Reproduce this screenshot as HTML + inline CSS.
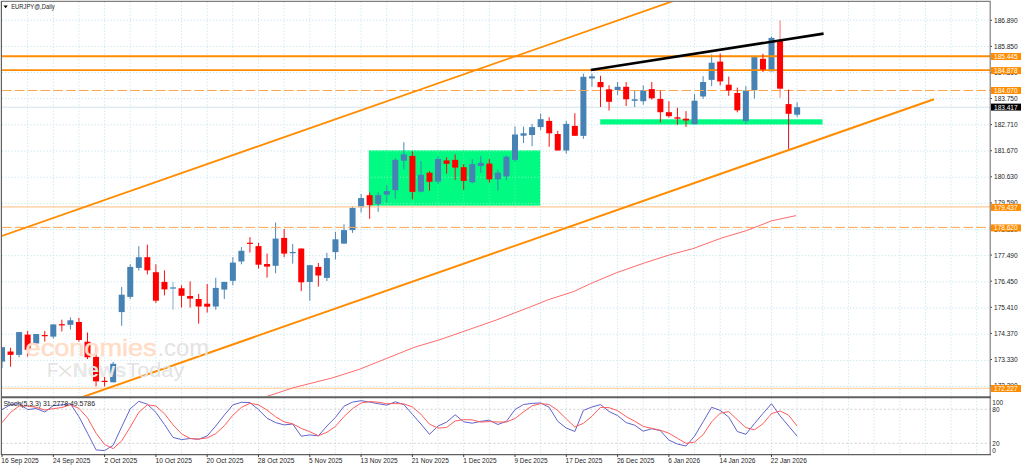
<!DOCTYPE html>
<html><head><meta charset="utf-8"><title>EURJPY Daily</title>
<style>html,body{margin:0;padding:0;background:#fff;overflow:hidden}svg{display:block}text{font-family:"Liberation Sans",sans-serif}</style></head><body>
<svg width="1024" height="467" viewBox="0 0 1024 467">
<rect width="1024" height="467" fill="#fff"/>
<defs><clipPath id="cm"><rect x="2" y="2" width="988" height="394.5"/></clipPath><clipPath id="cs"><rect x="2" y="398" width="988" height="56.5"/></clipPath></defs>
<g clip-path="url(#cm)">
<line x1="2" x2="990" y1="20.2" y2="20.2" stroke="#c0e3eb" stroke-opacity="1" stroke-width="1" stroke-dasharray="1.07 2.13"/>
<line x1="2" x2="990" y1="46.4" y2="46.4" stroke="#c0e3eb" stroke-opacity="1" stroke-width="1" stroke-dasharray="1.07 2.13"/>
<line x1="2" x2="990" y1="72.5" y2="72.5" stroke="#c0e3eb" stroke-opacity="1" stroke-width="1" stroke-dasharray="1.07 2.13"/>
<line x1="2" x2="990" y1="98.7" y2="98.7" stroke="#c0e3eb" stroke-opacity="1" stroke-width="1" stroke-dasharray="1.07 2.13"/>
<line x1="2" x2="990" y1="124.9" y2="124.9" stroke="#c0e3eb" stroke-opacity="1" stroke-width="1" stroke-dasharray="1.07 2.13"/>
<line x1="2" x2="990" y1="151.1" y2="151.1" stroke="#c0e3eb" stroke-opacity="1" stroke-width="1" stroke-dasharray="1.07 2.13"/>
<line x1="2" x2="990" y1="177.2" y2="177.2" stroke="#c0e3eb" stroke-opacity="1" stroke-width="1" stroke-dasharray="1.07 2.13"/>
<line x1="2" x2="990" y1="203.4" y2="203.4" stroke="#c0e3eb" stroke-opacity="1" stroke-width="1" stroke-dasharray="1.07 2.13"/>
<line x1="2" x2="990" y1="229.6" y2="229.6" stroke="#c0e3eb" stroke-opacity="1" stroke-width="1" stroke-dasharray="1.07 2.13"/>
<line x1="2" x2="990" y1="255.7" y2="255.7" stroke="#c0e3eb" stroke-opacity="1" stroke-width="1" stroke-dasharray="1.07 2.13"/>
<line x1="2" x2="990" y1="281.9" y2="281.9" stroke="#c0e3eb" stroke-opacity="1" stroke-width="1" stroke-dasharray="1.07 2.13"/>
<line x1="2" x2="990" y1="308.1" y2="308.1" stroke="#c0e3eb" stroke-opacity="1" stroke-width="1" stroke-dasharray="1.07 2.13"/>
<line x1="2" x2="990" y1="334.2" y2="334.2" stroke="#c0e3eb" stroke-opacity="1" stroke-width="1" stroke-dasharray="1.07 2.13"/>
<line x1="2" x2="990" y1="360.4" y2="360.4" stroke="#c0e3eb" stroke-opacity="1" stroke-width="1" stroke-dasharray="1.07 2.13"/>
<line x1="2" x2="990" y1="386.6" y2="386.6" stroke="#c0e3eb" stroke-opacity="1" stroke-width="1" stroke-dasharray="1.07 2.13"/>
<line x1="27.6" x2="27.6" y1="2" y2="396" stroke="#c0e3eb" stroke-opacity="1" stroke-width="1" stroke-dasharray="1.07 2.13"/>
<line x1="53.3" x2="53.3" y1="2" y2="396" stroke="#c0e3eb" stroke-opacity="1" stroke-width="1" stroke-dasharray="1.07 2.13"/>
<line x1="78.9" x2="78.9" y1="2" y2="396" stroke="#c0e3eb" stroke-opacity="1" stroke-width="1" stroke-dasharray="1.07 2.13"/>
<line x1="104.6" x2="104.6" y1="2" y2="396" stroke="#c0e3eb" stroke-opacity="1" stroke-width="1" stroke-dasharray="1.07 2.13"/>
<line x1="130.2" x2="130.2" y1="2" y2="396" stroke="#c0e3eb" stroke-opacity="1" stroke-width="1" stroke-dasharray="1.07 2.13"/>
<line x1="155.9" x2="155.9" y1="2" y2="396" stroke="#c0e3eb" stroke-opacity="1" stroke-width="1" stroke-dasharray="1.07 2.13"/>
<line x1="181.5" x2="181.5" y1="2" y2="396" stroke="#c0e3eb" stroke-opacity="1" stroke-width="1" stroke-dasharray="1.07 2.13"/>
<line x1="207.2" x2="207.2" y1="2" y2="396" stroke="#c0e3eb" stroke-opacity="1" stroke-width="1" stroke-dasharray="1.07 2.13"/>
<line x1="232.8" x2="232.8" y1="2" y2="396" stroke="#c0e3eb" stroke-opacity="1" stroke-width="1" stroke-dasharray="1.07 2.13"/>
<line x1="258.5" x2="258.5" y1="2" y2="396" stroke="#c0e3eb" stroke-opacity="1" stroke-width="1" stroke-dasharray="1.07 2.13"/>
<line x1="284.1" x2="284.1" y1="2" y2="396" stroke="#c0e3eb" stroke-opacity="1" stroke-width="1" stroke-dasharray="1.07 2.13"/>
<line x1="309.8" x2="309.8" y1="2" y2="396" stroke="#c0e3eb" stroke-opacity="1" stroke-width="1" stroke-dasharray="1.07 2.13"/>
<line x1="335.4" x2="335.4" y1="2" y2="396" stroke="#c0e3eb" stroke-opacity="1" stroke-width="1" stroke-dasharray="1.07 2.13"/>
<line x1="361.1" x2="361.1" y1="2" y2="396" stroke="#c0e3eb" stroke-opacity="1" stroke-width="1" stroke-dasharray="1.07 2.13"/>
<line x1="386.8" x2="386.8" y1="2" y2="396" stroke="#c0e3eb" stroke-opacity="1" stroke-width="1" stroke-dasharray="1.07 2.13"/>
<line x1="412.4" x2="412.4" y1="2" y2="396" stroke="#c0e3eb" stroke-opacity="1" stroke-width="1" stroke-dasharray="1.07 2.13"/>
<line x1="438.0" x2="438.0" y1="2" y2="396" stroke="#c0e3eb" stroke-opacity="1" stroke-width="1" stroke-dasharray="1.07 2.13"/>
<line x1="463.7" x2="463.7" y1="2" y2="396" stroke="#c0e3eb" stroke-opacity="1" stroke-width="1" stroke-dasharray="1.07 2.13"/>
<line x1="489.3" x2="489.3" y1="2" y2="396" stroke="#c0e3eb" stroke-opacity="1" stroke-width="1" stroke-dasharray="1.07 2.13"/>
<line x1="515.0" x2="515.0" y1="2" y2="396" stroke="#c0e3eb" stroke-opacity="1" stroke-width="1" stroke-dasharray="1.07 2.13"/>
<line x1="540.6" x2="540.6" y1="2" y2="396" stroke="#c0e3eb" stroke-opacity="1" stroke-width="1" stroke-dasharray="1.07 2.13"/>
<line x1="566.3" x2="566.3" y1="2" y2="396" stroke="#c0e3eb" stroke-opacity="1" stroke-width="1" stroke-dasharray="1.07 2.13"/>
<line x1="591.9" x2="591.9" y1="2" y2="396" stroke="#c0e3eb" stroke-opacity="1" stroke-width="1" stroke-dasharray="1.07 2.13"/>
<line x1="617.6" x2="617.6" y1="2" y2="396" stroke="#c0e3eb" stroke-opacity="1" stroke-width="1" stroke-dasharray="1.07 2.13"/>
<line x1="643.2" x2="643.2" y1="2" y2="396" stroke="#c0e3eb" stroke-opacity="1" stroke-width="1" stroke-dasharray="1.07 2.13"/>
<line x1="668.9" x2="668.9" y1="2" y2="396" stroke="#c0e3eb" stroke-opacity="1" stroke-width="1" stroke-dasharray="1.07 2.13"/>
<line x1="694.5" x2="694.5" y1="2" y2="396" stroke="#c0e3eb" stroke-opacity="1" stroke-width="1" stroke-dasharray="1.07 2.13"/>
<line x1="720.2" x2="720.2" y1="2" y2="396" stroke="#c0e3eb" stroke-opacity="1" stroke-width="1" stroke-dasharray="1.07 2.13"/>
<line x1="745.8" x2="745.8" y1="2" y2="396" stroke="#c0e3eb" stroke-opacity="1" stroke-width="1" stroke-dasharray="1.07 2.13"/>
<line x1="771.5" x2="771.5" y1="2" y2="396" stroke="#c0e3eb" stroke-opacity="1" stroke-width="1" stroke-dasharray="1.07 2.13"/>
<line x1="797.1" x2="797.1" y1="2" y2="396" stroke="#c0e3eb" stroke-opacity="1" stroke-width="1" stroke-dasharray="1.07 2.13"/>
<line x1="822.8" x2="822.8" y1="2" y2="396" stroke="#c0e3eb" stroke-opacity="1" stroke-width="1" stroke-dasharray="1.07 2.13"/>
<line x1="848.4" x2="848.4" y1="2" y2="396" stroke="#c0e3eb" stroke-opacity="1" stroke-width="1" stroke-dasharray="1.07 2.13"/>
<line x1="874.1" x2="874.1" y1="2" y2="396" stroke="#c0e3eb" stroke-opacity="1" stroke-width="1" stroke-dasharray="1.07 2.13"/>
<line x1="899.8" x2="899.8" y1="2" y2="396" stroke="#c0e3eb" stroke-opacity="1" stroke-width="1" stroke-dasharray="1.07 2.13"/>
<line x1="925.4" x2="925.4" y1="2" y2="396" stroke="#c0e3eb" stroke-opacity="1" stroke-width="1" stroke-dasharray="1.07 2.13"/>
<line x1="951.0" x2="951.0" y1="2" y2="396" stroke="#c0e3eb" stroke-opacity="1" stroke-width="1" stroke-dasharray="1.07 2.13"/>
<line x1="976.7" x2="976.7" y1="2" y2="396" stroke="#c0e3eb" stroke-opacity="1" stroke-width="1" stroke-dasharray="1.07 2.13"/>
<rect x="368.9" y="150.4" width="171.3" height="55.2" fill="#00fa82"/>
<rect x="600.2" y="119.3" width="222.3" height="5.2" fill="#00fa82"/>
<defs><clipPath id="cg"><rect x="368.9" y="150.4" width="171.3" height="55.2"/></clipPath></defs>
<g clip-path="url(#cg)">
<line x1="368" x2="541" y1="151.1" y2="151.1" stroke="#7dfdbd" stroke-width="1" stroke-dasharray="1.07 2.13"/>
<line x1="368" x2="541" y1="177.2" y2="177.2" stroke="#7dfdbd" stroke-width="1" stroke-dasharray="1.07 2.13"/>
<line x1="368" x2="541" y1="203.4" y2="203.4" stroke="#7dfdbd" stroke-width="1" stroke-dasharray="1.07 2.13"/>
<line x1="386.8" x2="386.8" y1="150" y2="206" stroke="#4df59a" stroke-width="1" stroke-dasharray="1.07 2.13"/>
<line x1="412.4" x2="412.4" y1="150" y2="206" stroke="#4df59a" stroke-width="1" stroke-dasharray="1.07 2.13"/>
<line x1="438.0" x2="438.0" y1="150" y2="206" stroke="#4df59a" stroke-width="1" stroke-dasharray="1.07 2.13"/>
<line x1="463.7" x2="463.7" y1="150" y2="206" stroke="#4df59a" stroke-width="1" stroke-dasharray="1.07 2.13"/>
<line x1="489.3" x2="489.3" y1="150" y2="206" stroke="#4df59a" stroke-width="1" stroke-dasharray="1.07 2.13"/>
<line x1="515.0" x2="515.0" y1="150" y2="206" stroke="#4df59a" stroke-width="1" stroke-dasharray="1.07 2.13"/>
<line x1="540.6" x2="540.6" y1="150" y2="206" stroke="#4df59a" stroke-width="1" stroke-dasharray="1.07 2.13"/>
</g>
<line x1="2" x2="990" y1="107.2" y2="107.2" stroke="#d3e4ec" stroke-width="1"/>
<line x1="2.00" x2="2.00" y1="347.2" y2="368.1" stroke="#4682b4" stroke-width="0.95"/>
<rect x="-1.00" y="347.2" width="6" height="14.4" fill="#4682b4"/>
<line x1="19.10" x2="19.10" y1="332.1" y2="357.3" stroke="#4682b4" stroke-width="0.95"/>
<rect x="16.10" y="332.1" width="6" height="22.8" fill="#4682b4"/>
<line x1="36.20" x2="36.20" y1="334.0" y2="345.5" stroke="#4682b4" stroke-width="0.95"/>
<rect x="33.20" y="334.0" width="6" height="9.5" fill="#4682b4"/>
<line x1="53.30" x2="53.30" y1="324.4" y2="338.6" stroke="#4682b4" stroke-width="0.95"/>
<rect x="50.30" y="324.4" width="6" height="12.2" fill="#4682b4"/>
<line x1="70.40" x2="70.40" y1="317.3" y2="329.5" stroke="#4682b4" stroke-width="0.95"/>
<rect x="67.40" y="320.3" width="6" height="4.5" fill="#4682b4"/>
<line x1="113.15" x2="113.15" y1="361.8" y2="382.3" stroke="#4682b4" stroke-width="0.95"/>
<rect x="110.15" y="363.8" width="6" height="18.5" fill="#4682b4"/>
<line x1="121.70" x2="121.70" y1="286.8" y2="325.8" stroke="#4682b4" stroke-width="0.95"/>
<rect x="118.70" y="294.7" width="6" height="17.4" fill="#4682b4"/>
<line x1="130.25" x2="130.25" y1="264.3" y2="299.0" stroke="#4682b4" stroke-width="0.95"/>
<rect x="127.25" y="266.9" width="6" height="30.0" fill="#4682b4"/>
<line x1="138.80" x2="138.80" y1="246.1" y2="270.7" stroke="#4682b4" stroke-width="0.95"/>
<rect x="135.80" y="257.2" width="6" height="10.7" fill="#4682b4"/>
<line x1="173.00" x2="173.00" y1="282.1" y2="309.7" stroke="#7fa8cc" stroke-width="0.95"/>
<rect x="170.00" y="287.4" width="6" height="1.2" fill="#4682b4"/>
<line x1="215.75" x2="215.75" y1="277.8" y2="309.7" stroke="#4682b4" stroke-width="0.95"/>
<rect x="212.75" y="287.9" width="6" height="18.6" fill="#4682b4"/>
<line x1="224.30" x2="224.30" y1="281.9" y2="299.0" stroke="#4682b4" stroke-width="0.95"/>
<rect x="221.30" y="281.9" width="6" height="7.7" fill="#4682b4"/>
<line x1="232.85" x2="232.85" y1="257.2" y2="285.3" stroke="#4682b4" stroke-width="0.95"/>
<rect x="229.85" y="262.6" width="6" height="18.2" fill="#4682b4"/>
<line x1="241.40" x2="241.40" y1="247.1" y2="264.3" stroke="#4682b4" stroke-width="0.95"/>
<rect x="238.40" y="250.8" width="6" height="10.7" fill="#4682b4"/>
<line x1="275.60" x2="275.60" y1="222.5" y2="273.3" stroke="#4682b4" stroke-width="0.95"/>
<rect x="272.60" y="238.6" width="6" height="27.2" fill="#4682b4"/>
<line x1="292.70" x2="292.70" y1="243.9" y2="263.6" stroke="#4682b4" stroke-width="0.95"/>
<rect x="289.70" y="252.0" width="6" height="1.2" fill="#4682b4"/>
<line x1="309.80" x2="309.80" y1="265.2" y2="300.7" stroke="#4682b4" stroke-width="0.95"/>
<rect x="306.80" y="265.2" width="6" height="16.8" fill="#4682b4"/>
<line x1="326.90" x2="326.90" y1="252.8" y2="281.1" stroke="#4682b4" stroke-width="0.95"/>
<rect x="323.90" y="258.1" width="6" height="19.8" fill="#4682b4"/>
<line x1="335.45" x2="335.45" y1="231.8" y2="259.6" stroke="#4682b4" stroke-width="0.95"/>
<rect x="332.45" y="239.3" width="6" height="12.8" fill="#4682b4"/>
<line x1="344.00" x2="344.00" y1="224.3" y2="243.6" stroke="#4682b4" stroke-width="0.95"/>
<rect x="341.00" y="230.1" width="6" height="13.5" fill="#4682b4"/>
<line x1="352.55" x2="352.55" y1="206.1" y2="232.9" stroke="#4682b4" stroke-width="0.95"/>
<rect x="349.55" y="207.8" width="6" height="22.3" fill="#4682b4"/>
<line x1="361.10" x2="361.10" y1="193.9" y2="212.5" stroke="#4682b4" stroke-width="0.95"/>
<rect x="358.10" y="198.1" width="6" height="9.2" fill="#4682b4"/>
<line x1="378.20" x2="378.20" y1="192.3" y2="211.8" stroke="#4682b4" stroke-width="0.95"/>
<rect x="375.20" y="195.2" width="6" height="8.8" fill="#4682b4"/>
<line x1="386.75" x2="386.75" y1="185.2" y2="202.7" stroke="#4682b4" stroke-width="0.95"/>
<rect x="383.75" y="191.1" width="6" height="3.6" fill="#4682b4"/>
<line x1="395.30" x2="395.30" y1="158.1" y2="198.8" stroke="#4682b4" stroke-width="0.95"/>
<rect x="392.30" y="159.9" width="6" height="30.3" fill="#4682b4"/>
<line x1="403.85" x2="403.85" y1="142.2" y2="169.3" stroke="#4682b4" stroke-width="0.95"/>
<rect x="400.85" y="154.4" width="6" height="6.3" fill="#4682b4"/>
<line x1="420.95" x2="420.95" y1="161.1" y2="192.4" stroke="#4682b4" stroke-width="0.95"/>
<rect x="417.95" y="174.8" width="6" height="16.8" fill="#4682b4"/>
<line x1="438.05" x2="438.05" y1="156.4" y2="183.9" stroke="#4682b4" stroke-width="0.95"/>
<rect x="435.05" y="159.0" width="6" height="22.6" fill="#4682b4"/>
<line x1="472.25" x2="472.25" y1="159.1" y2="183.4" stroke="#4682b4" stroke-width="0.95"/>
<rect x="469.25" y="164.1" width="6" height="18.2" fill="#4682b4"/>
<line x1="480.80" x2="480.80" y1="156.2" y2="172.7" stroke="#4682b4" stroke-width="0.95"/>
<rect x="477.80" y="162.8" width="6" height="3.2" fill="#4682b4"/>
<line x1="497.90" x2="497.90" y1="169.7" y2="190.7" stroke="#4682b4" stroke-width="0.95"/>
<rect x="494.90" y="172.7" width="6" height="6.6" fill="#4682b4"/>
<line x1="506.45" x2="506.45" y1="155.4" y2="180.1" stroke="#4682b4" stroke-width="0.95"/>
<rect x="503.45" y="156.7" width="6" height="19.7" fill="#4682b4"/>
<line x1="515.00" x2="515.00" y1="126.6" y2="161.6" stroke="#4682b4" stroke-width="0.95"/>
<rect x="512.00" y="134.5" width="6" height="25.4" fill="#4682b4"/>
<line x1="523.55" x2="523.55" y1="126.6" y2="143.1" stroke="#4682b4" stroke-width="0.95"/>
<rect x="520.55" y="133.3" width="6" height="2.4" fill="#4682b4"/>
<line x1="532.10" x2="532.10" y1="123.9" y2="146.3" stroke="#4682b4" stroke-width="0.95"/>
<rect x="529.10" y="127.1" width="6" height="7.9" fill="#4682b4"/>
<line x1="540.65" x2="540.65" y1="113.6" y2="130.1" stroke="#4682b4" stroke-width="0.95"/>
<rect x="537.65" y="119.2" width="6" height="7.9" fill="#4682b4"/>
<line x1="566.30" x2="566.30" y1="120.9" y2="153.7" stroke="#4682b4" stroke-width="0.95"/>
<rect x="563.30" y="123.9" width="6" height="26.6" fill="#4682b4"/>
<line x1="583.40" x2="583.40" y1="73.7" y2="138.8" stroke="#4682b4" stroke-width="0.95"/>
<rect x="580.40" y="76.8" width="6" height="59.1" fill="#4682b4"/>
<line x1="591.95" x2="591.95" y1="73.5" y2="86.8" stroke="#4682b4" stroke-width="0.95"/>
<rect x="588.95" y="76.4" width="6" height="2.0" fill="#4682b4"/>
<line x1="617.60" x2="617.60" y1="82.0" y2="94.9" stroke="#4682b4" stroke-width="0.95"/>
<rect x="614.60" y="86.8" width="6" height="3.3" fill="#4682b4"/>
<line x1="634.70" x2="634.70" y1="90.6" y2="107.0" stroke="#4682b4" stroke-width="0.95"/>
<rect x="631.70" y="99.3" width="6" height="1.5" fill="#4682b4"/>
<line x1="643.25" x2="643.25" y1="85.4" y2="104.7" stroke="#4682b4" stroke-width="0.95"/>
<rect x="640.25" y="90.2" width="6" height="11.0" fill="#4682b4"/>
<line x1="694.55" x2="694.55" y1="94.0" y2="124.2" stroke="#4682b4" stroke-width="0.95"/>
<rect x="691.55" y="100.7" width="6" height="23.5" fill="#4682b4"/>
<line x1="703.10" x2="703.10" y1="76.2" y2="98.8" stroke="#4682b4" stroke-width="0.95"/>
<rect x="700.10" y="82.0" width="6" height="14.5" fill="#4682b4"/>
<line x1="711.65" x2="711.65" y1="54.5" y2="86.2" stroke="#4682b4" stroke-width="0.95"/>
<rect x="708.65" y="62.7" width="6" height="17.2" fill="#4682b4"/>
<line x1="745.85" x2="745.85" y1="86.2" y2="124.2" stroke="#4682b4" stroke-width="0.95"/>
<rect x="742.85" y="90.5" width="6" height="30.4" fill="#4682b4"/>
<line x1="754.40" x2="754.40" y1="57.1" y2="98.7" stroke="#4682b4" stroke-width="0.95"/>
<rect x="751.40" y="57.1" width="6" height="33.2" fill="#4682b4"/>
<line x1="771.50" x2="771.50" y1="36.5" y2="71.3" stroke="#4682b4" stroke-width="0.95"/>
<rect x="768.50" y="37.9" width="6" height="33.4" fill="#4682b4"/>
<line x1="797.15" x2="797.15" y1="102.3" y2="116.9" stroke="#4682b4" stroke-width="0.95"/>
<rect x="794.15" y="107.2" width="6" height="7.5" fill="#4682b4"/>
<line x1="2" x2="990" y1="56.3" y2="56.3" stroke="#ff8c00" stroke-width="1.9"/>
<line x1="2" x2="990" y1="70.1" y2="70.1" stroke="#ff8c00" stroke-width="1.9"/>
<line x1="2" x2="990" y1="90.5" y2="90.5" stroke="#ffa64d" stroke-width="1" stroke-dasharray="9.62 3.2"/>
<line x1="2" x2="990" y1="206.8" y2="206.8" stroke="#ffc993" stroke-width="1.15"/>
<line x1="2" x2="990" y1="227.4" y2="227.4" stroke="#ffa64d" stroke-width="1" stroke-dasharray="9.62 3.2"/>
<line x1="2" x2="990" y1="388.2" y2="388.2" stroke="#ffc993" stroke-width="1.15"/>
<line x1="1.9" y1="235.9" x2="673" y2="1.1" stroke="#ff8c00" stroke-width="1.8"/>
<line x1="80" y1="397.9" x2="934" y2="99.2" stroke="#ff8c00" stroke-width="2"/>
<line x1="10.55" x2="10.55" y1="347.8" y2="366.7" stroke="#ff0000" stroke-width="0.95"/>
<rect x="7.55" y="351.5" width="6" height="3.4" fill="#ff0000"/>
<line x1="27.65" x2="27.65" y1="330.9" y2="356.5" stroke="#ff0000" stroke-width="0.95"/>
<rect x="24.65" y="334.6" width="6" height="15.2" fill="#ff0000"/>
<line x1="44.75" x2="44.75" y1="330.9" y2="341.7" stroke="#ff0000" stroke-width="0.95"/>
<rect x="41.75" y="335.0" width="6" height="1.2" fill="#ff0000"/>
<line x1="61.85" x2="61.85" y1="319.7" y2="331.5" stroke="#ff0000" stroke-width="0.95"/>
<rect x="58.85" y="324.2" width="6" height="1.2" fill="#ff0000"/>
<line x1="78.95" x2="78.95" y1="317.9" y2="341.7" stroke="#ff0000" stroke-width="0.95"/>
<rect x="75.95" y="322.0" width="6" height="18.0" fill="#ff0000"/>
<line x1="87.50" x2="87.50" y1="332.5" y2="359.0" stroke="#ff0000" stroke-width="0.95"/>
<rect x="84.50" y="341.7" width="6" height="15.6" fill="#ff0000"/>
<line x1="96.05" x2="96.05" y1="345.7" y2="386.4" stroke="#ff0000" stroke-width="0.95"/>
<rect x="93.05" y="356.9" width="6" height="24.4" fill="#ff0000"/>
<line x1="104.60" x2="104.60" y1="376.9" y2="386.4" stroke="#ff0000" stroke-width="0.95"/>
<rect x="101.60" y="380.8" width="6" height="1.2" fill="#ff0000"/>
<line x1="147.35" x2="147.35" y1="244.6" y2="274.4" stroke="#ff0000" stroke-width="0.95"/>
<rect x="144.35" y="257.2" width="6" height="13.1" fill="#ff0000"/>
<line x1="155.90" x2="155.90" y1="264.3" y2="302.9" stroke="#ff0000" stroke-width="0.95"/>
<rect x="152.90" y="272.2" width="6" height="28.5" fill="#ff0000"/>
<line x1="164.45" x2="164.45" y1="270.3" y2="295.4" stroke="#ff0000" stroke-width="0.95"/>
<rect x="161.45" y="281.9" width="6" height="7.5" fill="#ff0000"/>
<line x1="181.55" x2="181.55" y1="285.3" y2="307.6" stroke="#ff0000" stroke-width="0.95"/>
<rect x="178.55" y="288.3" width="6" height="7.5" fill="#ff0000"/>
<line x1="190.10" x2="190.10" y1="281.4" y2="307.6" stroke="#ff0000" stroke-width="0.95"/>
<rect x="187.10" y="296.0" width="6" height="2.6" fill="#ff0000"/>
<line x1="198.65" x2="198.65" y1="293.9" y2="323.6" stroke="#ff0000" stroke-width="0.95"/>
<rect x="195.65" y="299.0" width="6" height="7.5" fill="#ff0000"/>
<line x1="207.20" x2="207.20" y1="284.0" y2="312.5" stroke="#ff0000" stroke-width="0.95"/>
<rect x="204.20" y="303.7" width="6" height="3.0" fill="#ff0000"/>
<line x1="249.95" x2="249.95" y1="237.1" y2="252.5" stroke="#ff0000" stroke-width="0.95"/>
<rect x="246.95" y="242.7" width="6" height="1.2" fill="#ff0000"/>
<line x1="258.50" x2="258.50" y1="242.9" y2="268.6" stroke="#ff0000" stroke-width="0.95"/>
<rect x="255.50" y="246.1" width="6" height="18.6" fill="#ff0000"/>
<line x1="267.05" x2="267.05" y1="253.6" y2="277.6" stroke="#ff0000" stroke-width="0.95"/>
<rect x="264.05" y="264.0" width="6" height="2.6" fill="#ff0000"/>
<line x1="284.15" x2="284.15" y1="228.9" y2="257.2" stroke="#ff0000" stroke-width="0.95"/>
<rect x="281.15" y="237.9" width="6" height="15.7" fill="#ff0000"/>
<line x1="301.25" x2="301.25" y1="248.5" y2="291.1" stroke="#ff0000" stroke-width="0.95"/>
<rect x="298.25" y="248.5" width="6" height="33.8" fill="#ff0000"/>
<line x1="318.35" x2="318.35" y1="263.0" y2="286.6" stroke="#ff0000" stroke-width="0.95"/>
<rect x="315.35" y="266.9" width="6" height="8.6" fill="#ff0000"/>
<line x1="369.65" x2="369.65" y1="192.5" y2="218.9" stroke="#ff0000" stroke-width="0.95"/>
<rect x="366.65" y="195.2" width="6" height="10.0" fill="#ff0000"/>
<line x1="412.40" x2="412.40" y1="151.3" y2="199.3" stroke="#ff0000" stroke-width="0.95"/>
<rect x="409.40" y="155.9" width="6" height="36.0" fill="#ff0000"/>
<line x1="429.50" x2="429.50" y1="171.3" y2="190.7" stroke="#ff0000" stroke-width="0.95"/>
<rect x="426.50" y="172.7" width="6" height="9.1" fill="#ff0000"/>
<line x1="446.60" x2="446.60" y1="157.3" y2="173.6" stroke="#ff0000" stroke-width="0.95"/>
<rect x="443.60" y="160.4" width="6" height="3.4" fill="#ff0000"/>
<line x1="455.15" x2="455.15" y1="154.4" y2="179.9" stroke="#ff0000" stroke-width="0.95"/>
<rect x="452.15" y="159.9" width="6" height="7.7" fill="#ff0000"/>
<line x1="463.70" x2="463.70" y1="164.1" y2="189.9" stroke="#ff0000" stroke-width="0.95"/>
<rect x="460.70" y="167.2" width="6" height="13.7" fill="#ff0000"/>
<line x1="489.35" x2="489.35" y1="159.1" y2="182.6" stroke="#ff0000" stroke-width="0.95"/>
<rect x="486.35" y="163.6" width="6" height="15.7" fill="#ff0000"/>
<line x1="549.20" x2="549.20" y1="117.2" y2="146.8" stroke="#ff0000" stroke-width="0.95"/>
<rect x="546.20" y="120.9" width="6" height="12.4" fill="#ff0000"/>
<line x1="557.75" x2="557.75" y1="130.8" y2="150.5" stroke="#ff0000" stroke-width="0.95"/>
<rect x="554.75" y="134.0" width="6" height="16.5" fill="#ff0000"/>
<line x1="574.85" x2="574.85" y1="113.2" y2="135.8" stroke="#ff0000" stroke-width="0.95"/>
<rect x="571.85" y="125.9" width="6" height="9.9" fill="#ff0000"/>
<line x1="600.50" x2="600.50" y1="75.8" y2="107.0" stroke="#ff0000" stroke-width="0.95"/>
<rect x="597.50" y="82.0" width="6" height="5.2" fill="#ff0000"/>
<line x1="609.05" x2="609.05" y1="85.2" y2="110.5" stroke="#ff0000" stroke-width="0.95"/>
<rect x="606.05" y="89.3" width="6" height="12.5" fill="#ff0000"/>
<line x1="626.15" x2="626.15" y1="82.0" y2="106.0" stroke="#ff0000" stroke-width="0.95"/>
<rect x="623.15" y="86.8" width="6" height="12.5" fill="#ff0000"/>
<line x1="651.80" x2="651.80" y1="82.0" y2="99.7" stroke="#ff0000" stroke-width="0.95"/>
<rect x="648.80" y="89.1" width="6" height="9.2" fill="#ff0000"/>
<line x1="660.35" x2="660.35" y1="90.6" y2="122.4" stroke="#ff0000" stroke-width="0.95"/>
<rect x="657.35" y="98.9" width="6" height="13.3" fill="#ff0000"/>
<line x1="668.90" x2="668.90" y1="101.2" y2="117.6" stroke="#ff0000" stroke-width="0.95"/>
<rect x="665.90" y="112.2" width="6" height="4.0" fill="#ff0000"/>
<line x1="677.45" x2="677.45" y1="107.7" y2="124.8" stroke="#ff0000" stroke-width="0.95"/>
<rect x="674.45" y="117.3" width="6" height="1.4" fill="#ff0000"/>
<line x1="686.00" x2="686.00" y1="111.1" y2="127.0" stroke="#ff0000" stroke-width="0.95"/>
<rect x="683.00" y="118.7" width="6" height="1.8" fill="#ff0000"/>
<line x1="720.20" x2="720.20" y1="53.5" y2="85.3" stroke="#ff0000" stroke-width="0.95"/>
<rect x="717.20" y="61.6" width="6" height="19.8" fill="#ff0000"/>
<line x1="728.75" x2="728.75" y1="76.6" y2="95.9" stroke="#ff0000" stroke-width="0.95"/>
<rect x="725.75" y="84.7" width="6" height="5.8" fill="#ff0000"/>
<line x1="737.30" x2="737.30" y1="87.6" y2="112.3" stroke="#ff0000" stroke-width="0.95"/>
<rect x="734.30" y="93.0" width="6" height="17.3" fill="#ff0000"/>
<line x1="762.95" x2="762.95" y1="53.8" y2="72.0" stroke="#ff0000" stroke-width="0.95"/>
<rect x="759.95" y="58.8" width="6" height="10.8" fill="#ff0000"/>
<line x1="780.05" x2="780.05" y1="20.3" y2="97.8" stroke="#ff6a6a" stroke-width="0.95"/>
<rect x="777.05" y="40.8" width="6" height="47.9" fill="#ff0000"/>
<line x1="788.60" x2="788.60" y1="89.6" y2="148.8" stroke="#d4001a" stroke-width="0.95"/>
<rect x="785.60" y="104.1" width="6" height="9.7" fill="#ff0000"/>
<polyline fill="none" stroke="#ff6b6b" stroke-width="1" points="266.4,396.6 293.8,387.6 332,378 359.4,369.3 386.7,358.4 414.1,347.4 441.4,339.2 468.8,329.6 496.1,320.1 530,307 548.3,299.7 573.8,291.5 590.8,283.5 616.3,272.8 644.6,262.9 670.1,254.7 692.8,248.7 721.1,238.2 746.6,230.6 772,220.7 796.1,215.6"/>
<line x1="590.8" y1="70" x2="823.6" y2="33.6" stroke="#000" stroke-width="2.6"/>
<text x="25.6" y="355.8" font-size="24" fill="#ffdcc5" stroke="#ffdcc5" stroke-width="0.45" textLength="131" lengthAdjust="spacingAndGlyphs">economies</text>
<text x="157.5" y="355.8" font-size="24" fill="#e3e3e3" textLength="51.5" lengthAdjust="spacingAndGlyphs">.com</text>
<text x="47" y="376.9" font-size="20.8" fill="#e2e2e2" textLength="11.5" lengthAdjust="spacingAndGlyphs">F</text>
<path d="M59.3 366 L71 376.5" stroke="#e6dada" stroke-width="1.6" fill="none"/>
<path d="M71 366 L59.3 376.5" stroke="#dfe6df" stroke-width="1.6" fill="none"/>
<text x="72.8" y="376.9" font-size="20.8" font-weight="bold" fill="#e8e8e8" textLength="53.5" lengthAdjust="spacingAndGlyphs">News</text>
<text x="126.3" y="376.9" font-size="20.8" fill="#e3e3e3" textLength="58" lengthAdjust="spacingAndGlyphs">Today</text>
</g>
<g clip-path="url(#cs)">
<line x1="27.6" x2="27.6" y1="398" y2="454" stroke="#c0e3eb" stroke-width="1" stroke-dasharray="1.1 2.1"/>
<line x1="53.3" x2="53.3" y1="398" y2="454" stroke="#c0e3eb" stroke-width="1" stroke-dasharray="1.1 2.1"/>
<line x1="78.9" x2="78.9" y1="398" y2="454" stroke="#c0e3eb" stroke-width="1" stroke-dasharray="1.1 2.1"/>
<line x1="104.6" x2="104.6" y1="398" y2="454" stroke="#c0e3eb" stroke-width="1" stroke-dasharray="1.1 2.1"/>
<line x1="130.2" x2="130.2" y1="398" y2="454" stroke="#c0e3eb" stroke-width="1" stroke-dasharray="1.1 2.1"/>
<line x1="155.9" x2="155.9" y1="398" y2="454" stroke="#c0e3eb" stroke-width="1" stroke-dasharray="1.1 2.1"/>
<line x1="181.5" x2="181.5" y1="398" y2="454" stroke="#c0e3eb" stroke-width="1" stroke-dasharray="1.1 2.1"/>
<line x1="207.2" x2="207.2" y1="398" y2="454" stroke="#c0e3eb" stroke-width="1" stroke-dasharray="1.1 2.1"/>
<line x1="232.8" x2="232.8" y1="398" y2="454" stroke="#c0e3eb" stroke-width="1" stroke-dasharray="1.1 2.1"/>
<line x1="258.5" x2="258.5" y1="398" y2="454" stroke="#c0e3eb" stroke-width="1" stroke-dasharray="1.1 2.1"/>
<line x1="284.1" x2="284.1" y1="398" y2="454" stroke="#c0e3eb" stroke-width="1" stroke-dasharray="1.1 2.1"/>
<line x1="309.8" x2="309.8" y1="398" y2="454" stroke="#c0e3eb" stroke-width="1" stroke-dasharray="1.1 2.1"/>
<line x1="335.4" x2="335.4" y1="398" y2="454" stroke="#c0e3eb" stroke-width="1" stroke-dasharray="1.1 2.1"/>
<line x1="361.1" x2="361.1" y1="398" y2="454" stroke="#c0e3eb" stroke-width="1" stroke-dasharray="1.1 2.1"/>
<line x1="386.8" x2="386.8" y1="398" y2="454" stroke="#c0e3eb" stroke-width="1" stroke-dasharray="1.1 2.1"/>
<line x1="412.4" x2="412.4" y1="398" y2="454" stroke="#c0e3eb" stroke-width="1" stroke-dasharray="1.1 2.1"/>
<line x1="438.0" x2="438.0" y1="398" y2="454" stroke="#c0e3eb" stroke-width="1" stroke-dasharray="1.1 2.1"/>
<line x1="463.7" x2="463.7" y1="398" y2="454" stroke="#c0e3eb" stroke-width="1" stroke-dasharray="1.1 2.1"/>
<line x1="489.3" x2="489.3" y1="398" y2="454" stroke="#c0e3eb" stroke-width="1" stroke-dasharray="1.1 2.1"/>
<line x1="515.0" x2="515.0" y1="398" y2="454" stroke="#c0e3eb" stroke-width="1" stroke-dasharray="1.1 2.1"/>
<line x1="540.6" x2="540.6" y1="398" y2="454" stroke="#c0e3eb" stroke-width="1" stroke-dasharray="1.1 2.1"/>
<line x1="566.3" x2="566.3" y1="398" y2="454" stroke="#c0e3eb" stroke-width="1" stroke-dasharray="1.1 2.1"/>
<line x1="591.9" x2="591.9" y1="398" y2="454" stroke="#c0e3eb" stroke-width="1" stroke-dasharray="1.1 2.1"/>
<line x1="617.6" x2="617.6" y1="398" y2="454" stroke="#c0e3eb" stroke-width="1" stroke-dasharray="1.1 2.1"/>
<line x1="643.2" x2="643.2" y1="398" y2="454" stroke="#c0e3eb" stroke-width="1" stroke-dasharray="1.1 2.1"/>
<line x1="668.9" x2="668.9" y1="398" y2="454" stroke="#c0e3eb" stroke-width="1" stroke-dasharray="1.1 2.1"/>
<line x1="694.5" x2="694.5" y1="398" y2="454" stroke="#c0e3eb" stroke-width="1" stroke-dasharray="1.1 2.1"/>
<line x1="720.2" x2="720.2" y1="398" y2="454" stroke="#c0e3eb" stroke-width="1" stroke-dasharray="1.1 2.1"/>
<line x1="745.8" x2="745.8" y1="398" y2="454" stroke="#c0e3eb" stroke-width="1" stroke-dasharray="1.1 2.1"/>
<line x1="771.5" x2="771.5" y1="398" y2="454" stroke="#c0e3eb" stroke-width="1" stroke-dasharray="1.1 2.1"/>
<line x1="797.1" x2="797.1" y1="398" y2="454" stroke="#c0e3eb" stroke-width="1" stroke-dasharray="1.1 2.1"/>
<line x1="822.8" x2="822.8" y1="398" y2="454" stroke="#c0e3eb" stroke-width="1" stroke-dasharray="1.1 2.1"/>
<line x1="848.4" x2="848.4" y1="398" y2="454" stroke="#c0e3eb" stroke-width="1" stroke-dasharray="1.1 2.1"/>
<line x1="874.1" x2="874.1" y1="398" y2="454" stroke="#c0e3eb" stroke-width="1" stroke-dasharray="1.1 2.1"/>
<line x1="899.8" x2="899.8" y1="398" y2="454" stroke="#c0e3eb" stroke-width="1" stroke-dasharray="1.1 2.1"/>
<line x1="925.4" x2="925.4" y1="398" y2="454" stroke="#c0e3eb" stroke-width="1" stroke-dasharray="1.1 2.1"/>
<line x1="951.0" x2="951.0" y1="398" y2="454" stroke="#c0e3eb" stroke-width="1" stroke-dasharray="1.1 2.1"/>
<line x1="976.7" x2="976.7" y1="398" y2="454" stroke="#c0e3eb" stroke-width="1" stroke-dasharray="1.1 2.1"/>
<line x1="2" x2="990" y1="409.3" y2="409.3" stroke="#d2d2d2" stroke-width="1" stroke-dasharray="2.1 2.1"/>
<line x1="2" x2="990" y1="443.3" y2="443.3" stroke="#d2d2d2" stroke-width="1" stroke-dasharray="2.1 2.1"/>
<polyline fill="none" stroke="#6262cc" stroke-width="1" points="2.00,409.6 10.55,404.6 19.10,403.7 27.65,409.6 36.20,408.5 44.75,412.0 53.30,405.7 61.85,404.9 70.40,403.7 78.95,416.7 87.50,433.1 96.05,449.9 104.60,450.6 113.15,445.3 121.70,426.8 130.25,408.8 138.80,401.3 147.35,404.2 155.90,412.4 164.45,424.5 173.00,437.4 181.55,439.6 190.10,438.5 198.65,439.3 207.20,435.9 215.75,426.0 224.30,415.1 232.85,404.9 241.40,402.3 249.95,402.6 258.50,409.6 267.05,418.2 275.60,422.6 284.15,424.9 292.70,424.0 301.25,436.2 309.80,434.9 318.35,435.9 326.90,426.0 335.45,417.4 344.00,406.2 352.55,402.1 361.10,400.7 369.65,402.1 378.20,403.7 386.75,405.2 395.30,401.8 403.85,404.6 412.40,414.3 420.95,424.0 429.50,434.3 438.05,426.0 446.60,422.1 455.15,414.8 463.70,421.8 472.25,423.2 480.80,421.3 489.35,420.2 497.90,424.5 506.45,421.3 515.00,409.6 523.55,404.5 532.10,403.4 540.65,402.9 549.20,407.3 557.75,421.3 566.30,428.1 574.85,431.5 583.40,410.4 591.95,407.0 600.50,404.6 609.05,411.5 617.60,415.6 626.15,422.6 634.70,425.2 643.25,431.2 651.80,428.7 660.35,430.7 668.90,440.1 677.45,444.0 686.00,446.0 694.55,436.2 703.10,421.8 711.65,407.3 720.20,410.4 728.75,417.1 737.30,431.5 745.85,434.3 754.40,423.7 762.95,413.5 771.50,403.7 780.05,415.9 788.60,426.0 797.15,436.2"/>
<polyline fill="none" stroke="#ff5c5c" stroke-width="1" points="2.00,422.6 10.55,412.4 19.10,406.0 27.65,406.0 36.20,407.3 44.75,410.0 53.30,408.7 61.85,407.5 70.40,404.8 78.95,408.4 87.50,417.8 96.05,433.2 104.60,444.5 113.15,448.6 121.70,440.9 130.25,427.0 138.80,412.3 147.35,404.8 155.90,406.0 164.45,413.7 173.00,424.8 181.55,433.8 190.10,438.5 198.65,439.1 207.20,437.9 215.75,433.7 224.30,425.7 232.85,415.3 241.40,407.4 249.95,403.3 258.50,404.8 267.05,410.1 275.60,416.8 284.15,421.9 292.70,423.8 301.25,428.4 309.80,431.7 318.35,435.7 326.90,432.3 335.45,426.4 344.00,416.5 352.55,408.6 361.10,403.0 369.65,401.6 378.20,402.2 386.75,403.7 395.30,403.6 403.85,403.9 412.40,406.9 420.95,414.3 429.50,424.2 438.05,428.1 446.60,427.5 455.15,421.0 463.70,419.6 472.25,419.9 480.80,422.1 489.35,421.6 497.90,422.0 506.45,422.0 515.00,418.5 523.55,411.8 532.10,405.8 540.65,403.6 549.20,404.5 557.75,410.5 566.30,418.9 574.85,427.0 583.40,423.3 591.95,416.3 600.50,407.3 609.05,407.7 617.60,410.6 626.15,416.6 634.70,421.2 643.25,426.4 651.80,428.4 660.35,430.2 668.90,433.2 677.45,438.3 686.00,443.4 694.55,442.1 703.10,434.7 711.65,421.8 720.20,413.2 728.75,411.6 737.30,419.7 745.85,427.6 754.40,429.8 762.95,423.8 771.50,413.6 780.05,411.0 788.60,415.2 797.15,426.0"/>
</g>
<line x1="1" x2="990.5" y1="1.4" y2="1.4" stroke="#808080" stroke-width="1.1"/>
<line x1="1.4" x2="1.4" y1="1" y2="455" stroke="#606060" stroke-width="1.2"/>
<line x1="990.2" x2="990.2" y1="1" y2="455" stroke="#808080" stroke-width="1.2"/>
<line x1="1" x2="991" y1="397.2" y2="397.2" stroke="#606060" stroke-width="1.9"/>
<line x1="1" x2="991" y1="454.6" y2="454.6" stroke="#606060" stroke-width="1.2"/>
<line x1="990.6" x2="992" y1="20.3" y2="20.3" stroke="#404040" stroke-width="1"/>
<text x="994" y="22.8" font-size="7.6" fill="#1a1a1a" textLength="23.6" lengthAdjust="spacingAndGlyphs">186.890</text>
<line x1="990.6" x2="992" y1="46.4" y2="46.4" stroke="#404040" stroke-width="1"/>
<text x="994" y="48.9" font-size="7.6" fill="#1a1a1a" textLength="23.6" lengthAdjust="spacingAndGlyphs">185.850</text>
<line x1="990.6" x2="992" y1="72.5" y2="72.5" stroke="#404040" stroke-width="1"/>
<text x="994" y="75.0" font-size="7.6" fill="#1a1a1a" textLength="23.6" lengthAdjust="spacingAndGlyphs">184.810</text>
<line x1="990.6" x2="992" y1="98.5" y2="98.5" stroke="#404040" stroke-width="1"/>
<text x="994" y="101.0" font-size="7.6" fill="#1a1a1a" textLength="23.6" lengthAdjust="spacingAndGlyphs">183.750</text>
<line x1="990.6" x2="992" y1="124.6" y2="124.6" stroke="#404040" stroke-width="1"/>
<text x="994" y="127.1" font-size="7.6" fill="#1a1a1a" textLength="23.6" lengthAdjust="spacingAndGlyphs">182.710</text>
<line x1="990.6" x2="992" y1="150.7" y2="150.7" stroke="#404040" stroke-width="1"/>
<text x="994" y="153.2" font-size="7.6" fill="#1a1a1a" textLength="23.6" lengthAdjust="spacingAndGlyphs">181.670</text>
<line x1="990.6" x2="992" y1="176.8" y2="176.8" stroke="#404040" stroke-width="1"/>
<text x="994" y="179.3" font-size="7.6" fill="#1a1a1a" textLength="23.6" lengthAdjust="spacingAndGlyphs">180.630</text>
<line x1="990.6" x2="992" y1="202.9" y2="202.9" stroke="#404040" stroke-width="1"/>
<text x="994" y="205.4" font-size="7.6" fill="#1a1a1a" textLength="23.6" lengthAdjust="spacingAndGlyphs">179.590</text>
<line x1="990.6" x2="992" y1="229.0" y2="229.0" stroke="#404040" stroke-width="1"/>
<text x="994" y="231.5" font-size="7.6" fill="#1a1a1a" textLength="23.6" lengthAdjust="spacingAndGlyphs">178.550</text>
<line x1="990.6" x2="992" y1="255.1" y2="255.1" stroke="#404040" stroke-width="1"/>
<text x="994" y="257.6" font-size="7.6" fill="#1a1a1a" textLength="23.6" lengthAdjust="spacingAndGlyphs">177.490</text>
<line x1="990.6" x2="992" y1="281.2" y2="281.2" stroke="#404040" stroke-width="1"/>
<text x="994" y="283.7" font-size="7.6" fill="#1a1a1a" textLength="23.6" lengthAdjust="spacingAndGlyphs">176.450</text>
<line x1="990.6" x2="992" y1="307.3" y2="307.3" stroke="#404040" stroke-width="1"/>
<text x="994" y="309.8" font-size="7.6" fill="#1a1a1a" textLength="23.6" lengthAdjust="spacingAndGlyphs">175.410</text>
<line x1="990.6" x2="992" y1="333.4" y2="333.4" stroke="#404040" stroke-width="1"/>
<text x="994" y="335.9" font-size="7.6" fill="#1a1a1a" textLength="23.6" lengthAdjust="spacingAndGlyphs">174.370</text>
<line x1="990.6" x2="992" y1="359.5" y2="359.5" stroke="#404040" stroke-width="1"/>
<text x="994" y="362.0" font-size="7.6" fill="#1a1a1a" textLength="23.6" lengthAdjust="spacingAndGlyphs">173.330</text>
<line x1="990.6" x2="992" y1="385.6" y2="385.6" stroke="#404040" stroke-width="1"/>
<text x="994" y="388.1" font-size="7.6" fill="#1a1a1a" textLength="23.6" lengthAdjust="spacingAndGlyphs">172.290</text>
<rect x="991" y="53.0" width="30" height="7" fill="#ff8c00"/>
<text x="994" y="59.0" font-size="7.6" fill="#fff" textLength="23.6" lengthAdjust="spacingAndGlyphs">185.445</text>
<rect x="991" y="67.1" width="30" height="7" fill="#ff8c00"/>
<text x="994" y="73.1" font-size="7.6" fill="#fff" textLength="23.6" lengthAdjust="spacingAndGlyphs">184.878</text>
<rect x="991" y="87.0" width="30" height="7" fill="#ff8c00"/>
<text x="994" y="93.0" font-size="7.6" fill="#fff" textLength="23.6" lengthAdjust="spacingAndGlyphs">184.070</text>
<rect x="991" y="103.6" width="30" height="7" fill="#000"/>
<text x="994" y="109.6" font-size="7.6" fill="#fff" textLength="23.6" lengthAdjust="spacingAndGlyphs">183.417</text>
<rect x="991" y="203.9" width="30" height="7" fill="#ff8c00"/>
<text x="994" y="209.9" font-size="7.6" fill="#fff" textLength="23.6" lengthAdjust="spacingAndGlyphs">179.437</text>
<rect x="991" y="224.4" width="30" height="7" fill="#ff8c00"/>
<text x="994" y="230.4" font-size="7.6" fill="#fff" textLength="23.6" lengthAdjust="spacingAndGlyphs">178.620</text>
<rect x="991" y="385.0" width="30" height="7" fill="#ff8c00"/>
<text x="994" y="391.0" font-size="7.6" fill="#fff" textLength="23.6" lengthAdjust="spacingAndGlyphs">172.227</text>
<text x="992.3" y="405.3" font-size="7.6" fill="#1a1a1a" textLength="10.8" lengthAdjust="spacingAndGlyphs">100</text>
<text x="992.3" y="412.1" font-size="7.6" fill="#1a1a1a" textLength="7.2" lengthAdjust="spacingAndGlyphs">80</text>
<text x="992.3" y="446.1" font-size="7.6" fill="#1a1a1a" textLength="7.2" lengthAdjust="spacingAndGlyphs">20</text>
<text x="992.3" y="452.9" font-size="7.6" fill="#1a1a1a" textLength="3.6" lengthAdjust="spacingAndGlyphs">0</text>
<path d="M3.5 5.4 L7.8 5.4 L5.65 8.2 Z" fill="#000"/>
<text x="11.2" y="9.1" font-size="7.6" fill="#1a1a1a" textLength="43.5" lengthAdjust="spacingAndGlyphs">EURJPY@,Daily</text>
<text x="3.4" y="406.2" font-size="7.6" fill="#1a1a1a" textLength="91.6" lengthAdjust="spacingAndGlyphs">Stoch(5,3,3) 31.2778 49.5786</text>
<line x1="2.0" x2="2.0" y1="454.5" y2="457" stroke="#404040" stroke-width="1"/>
<text x="1.25" y="462.8" font-size="7.6" fill="#1a1a1a" textLength="37.5" lengthAdjust="spacingAndGlyphs">16 Sep 2025</text>
<line x1="53.3" x2="53.3" y1="454.5" y2="457" stroke="#404040" stroke-width="1"/>
<text x="53.1" y="462.8" font-size="7.6" fill="#1a1a1a" textLength="37.2" lengthAdjust="spacingAndGlyphs">24 Sep 2025</text>
<line x1="104.6" x2="104.6" y1="454.5" y2="457" stroke="#404040" stroke-width="1"/>
<text x="104.4" y="462.8" font-size="7.6" fill="#1a1a1a" textLength="32.8" lengthAdjust="spacingAndGlyphs">2 Oct 2025</text>
<line x1="155.9" x2="155.9" y1="454.5" y2="457" stroke="#404040" stroke-width="1"/>
<text x="155.5" y="462.8" font-size="7.6" fill="#1a1a1a" textLength="36.4" lengthAdjust="spacingAndGlyphs">10 Oct 2025</text>
<line x1="207.2" x2="207.2" y1="454.5" y2="457" stroke="#404040" stroke-width="1"/>
<text x="206.6" y="462.8" font-size="7.6" fill="#1a1a1a" textLength="36.8" lengthAdjust="spacingAndGlyphs">20 Oct 2025</text>
<line x1="258.5" x2="258.5" y1="454.5" y2="457" stroke="#404040" stroke-width="1"/>
<text x="257.8" y="462.8" font-size="7.6" fill="#1a1a1a" textLength="36.7" lengthAdjust="spacingAndGlyphs">28 Oct 2025</text>
<line x1="309.8" x2="309.8" y1="454.5" y2="457" stroke="#404040" stroke-width="1"/>
<text x="309.1" y="462.8" font-size="7.6" fill="#1a1a1a" textLength="33.4" lengthAdjust="spacingAndGlyphs">5 Nov 2025</text>
<line x1="361.1" x2="361.1" y1="454.5" y2="457" stroke="#404040" stroke-width="1"/>
<text x="360.6" y="462.8" font-size="7.6" fill="#1a1a1a" textLength="37.1" lengthAdjust="spacingAndGlyphs">13 Nov 2025</text>
<line x1="412.4" x2="412.4" y1="454.5" y2="457" stroke="#404040" stroke-width="1"/>
<text x="411.7" y="462.8" font-size="7.6" fill="#1a1a1a" textLength="37.1" lengthAdjust="spacingAndGlyphs">21 Nov 2025</text>
<line x1="463.7" x2="463.7" y1="454.5" y2="457" stroke="#404040" stroke-width="1"/>
<text x="463.3" y="462.8" font-size="7.6" fill="#1a1a1a" textLength="33.3" lengthAdjust="spacingAndGlyphs">1 Dec 2025</text>
<line x1="515.0" x2="515.0" y1="454.5" y2="457" stroke="#404040" stroke-width="1"/>
<text x="514.4" y="462.8" font-size="7.6" fill="#1a1a1a" textLength="33.3" lengthAdjust="spacingAndGlyphs">9 Dec 2025</text>
<line x1="566.3" x2="566.3" y1="454.5" y2="457" stroke="#404040" stroke-width="1"/>
<text x="565.6" y="462.8" font-size="7.6" fill="#1a1a1a" textLength="36.7" lengthAdjust="spacingAndGlyphs">17 Dec 2025</text>
<line x1="617.6" x2="617.6" y1="454.5" y2="457" stroke="#404040" stroke-width="1"/>
<text x="616.9" y="462.8" font-size="7.6" fill="#1a1a1a" textLength="37.5" lengthAdjust="spacingAndGlyphs">26 Dec 2025</text>
<line x1="668.9" x2="668.9" y1="454.5" y2="457" stroke="#404040" stroke-width="1"/>
<text x="668.3" y="462.8" font-size="7.6" fill="#1a1a1a" textLength="31.7" lengthAdjust="spacingAndGlyphs">6 Jan 2026</text>
<line x1="720.2" x2="720.2" y1="454.5" y2="457" stroke="#404040" stroke-width="1"/>
<text x="719.5" y="462.8" font-size="7.6" fill="#1a1a1a" textLength="36.0" lengthAdjust="spacingAndGlyphs">14 Jan 2026</text>
<line x1="771.5" x2="771.5" y1="454.5" y2="457" stroke="#404040" stroke-width="1"/>
<text x="770.8" y="462.8" font-size="7.6" fill="#1a1a1a" textLength="36.1" lengthAdjust="spacingAndGlyphs">22 Jan 2026</text>
</svg></body></html>
